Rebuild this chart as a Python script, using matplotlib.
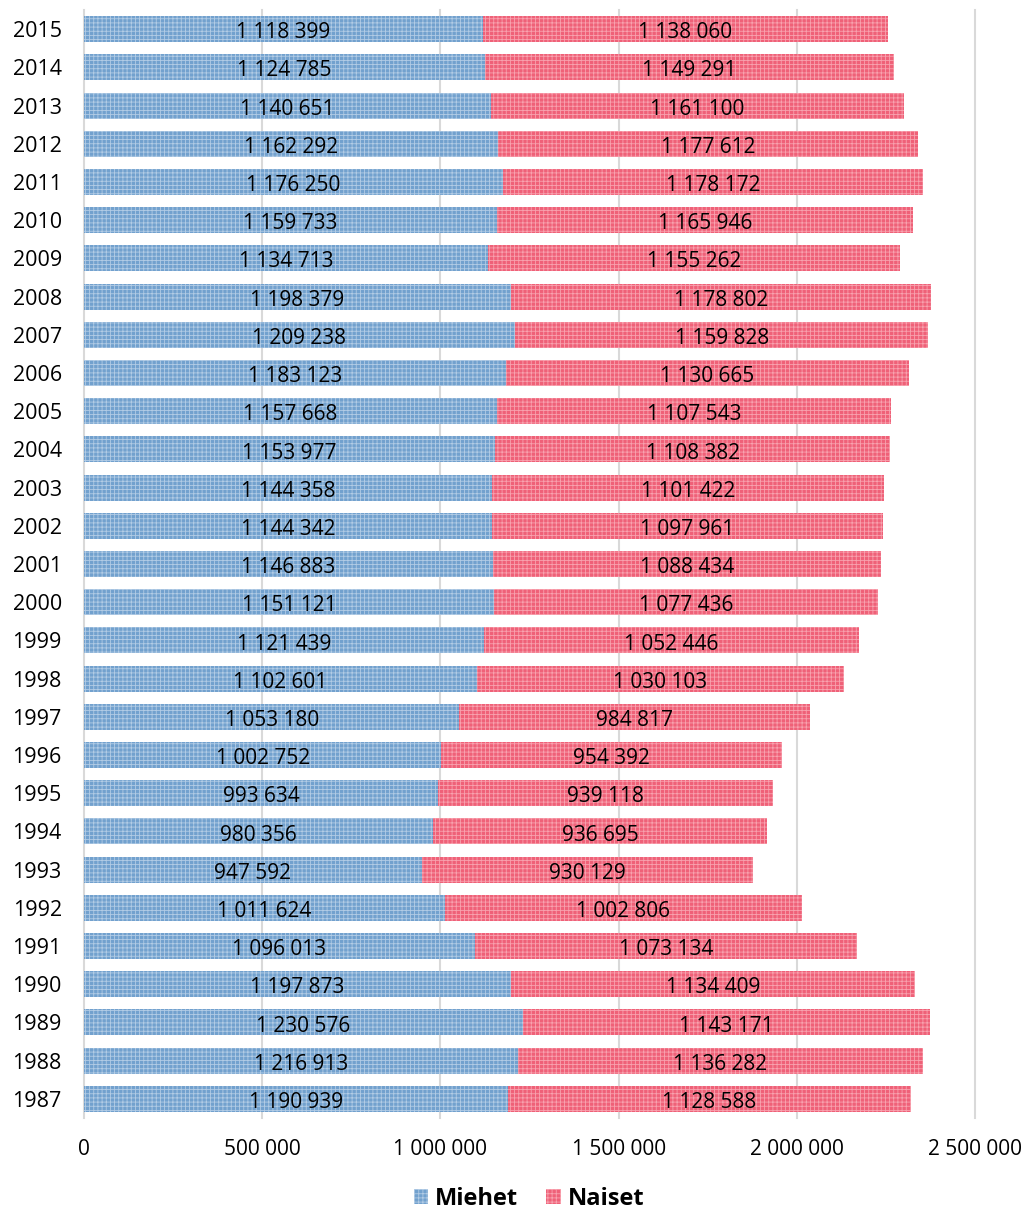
import matplotlib
matplotlib.use("Agg")
import matplotlib.pyplot as plt
from matplotlib.patches import Patch

years = [2015, 2014, 2013, 2012, 2011, 2010, 2009, 2008, 2007, 2006, 2005, 2004, 2003, 2002,
         2001, 2000, 1999, 1998, 1997, 1996, 1995, 1994, 1993, 1992, 1991, 1990, 1989, 1988, 1987]
miehet = [1118399, 1124785, 1140651, 1162292, 1176250, 1159733, 1134713, 1198379, 1209238,
          1183123, 1157668, 1153977, 1144358, 1144342, 1146883, 1151121, 1121439, 1102601,
          1053180, 1002752, 993634, 980356, 947592, 1011624, 1096013, 1197873, 1230576,
          1216913, 1190939]
naiset = [1138060, 1149291, 1161100, 1177612, 1178172, 1165946, 1155262, 1178802, 1159828,
          1130665, 1107543, 1108382, 1101422, 1097961, 1088434, 1077436, 1052446, 1030103,
          984817, 954392, 939118, 936695, 930129, 1002806, 1073134, 1134409, 1143171,
          1136282, 1128588]
xticks = [0, 500000, 1000000, 1500000, 2000000, 2500000]

FONT = ["Open Sans", "DejaVu Sans"]
plt.rcParams['font.family'] = FONT
plt.rcParams['hatch.linewidth'] = 0.6

def fmt(v):
    return f"{v:,}".replace(",", " ")

W, H = 1028, 1213
fig = plt.figure(figsize=(W/100, H/100), dpi=100)
ax = fig.add_axes([84/W, 1-1118/H, (975-84)/W, (1118-10)/H])

blue_face, blue_hatch = "#72a1ce", "#b2cce5"
red_face, red_hatch = "#ef6178", "#f8a2af"

pos = list(range(len(years)))
bh = 0.68
ax.barh(pos, miehet, height=bh, color=blue_face, edgecolor=blue_hatch, hatch="++++", linewidth=0, zorder=2)
ax.barh(pos, naiset, left=miehet, height=bh, color=red_face, edgecolor=red_hatch, hatch="++++", linewidth=0, zorder=2)

for i, (m, n) in enumerate(zip(miehet, naiset)):
    ax.text(m/2, i + 0.03, fmt(m), ha="center", va="center_baseline", fontsize=15, color="black", zorder=3)
    ax.text(m + n/2, i + 0.03, fmt(n), ha="center", va="center_baseline", fontsize=15, color="black", zorder=3)

ax.set_ylim(len(years)-0.5, -0.5)
ax.set_xlim(0, 2500000)
ax.set_yticks(pos)
ax.set_yticklabels([str(y) for y in years], fontsize=15.5)
ax.set_xticks(xticks)
ax.set_xticklabels([fmt(v) for v in xticks], fontsize=15)
ax.tick_params(axis="both", length=0)
ax.tick_params(axis="x", pad=15)
ax.tick_params(axis="y", pad=16)
for s in ax.spines.values():
    s.set_visible(False)
for x in xticks:
    ax.axvline(x, color="#d9d9d9", linewidth=1.5, zorder=1, clip_on=False)

handles = [Patch(facecolor=blue_face, edgecolor=blue_hatch, hatch="++++", linewidth=0, label="Miehet"),
           Patch(facecolor=red_face, edgecolor=red_hatch, hatch="++++", linewidth=0, label="Naiset")]
fig.legend(handles=handles, loc="center", bbox_to_anchor=(529/W, 1-1199/H), ncol=2, frameon=False,
           prop={"family": FONT, "weight": "bold", "size": 17}, handlelength=0.6, handleheight=0.6,
           handletextpad=0.3, columnspacing=1.2, borderpad=0.1)

fig.savefig("out.png", dpi=100)
